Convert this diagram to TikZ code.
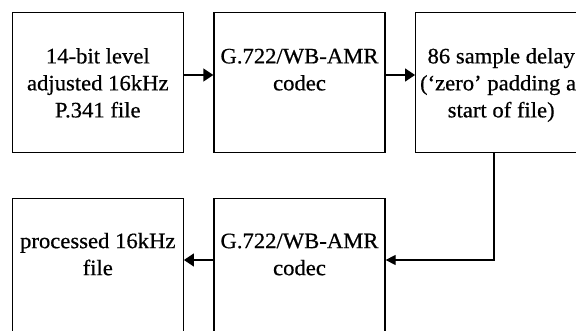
\documentclass[tikz,border=0pt]{standalone}
\usepackage{fontspec}
\setmainfont[FakeStretch=1.03,FakeBold=0.6]{Liberation Serif}
\usetikzlibrary{arrows.meta,calc}
\tikzset{
  blk/.style={draw=black, line width=1.3pt, minimum width=171pt, minimum height=140pt, inner sep=0pt},
  txt/.style={anchor=base, inner sep=0pt, font=\fontsize{22}{27}\selectfont},
  arr/.style={line width=1.3pt, -{Triangle[length=10pt,width=13pt]}},
  arrs/.style={line width=1.3pt, -{Triangle[length=10pt,width=10pt]}}
}
\newcommand{\boxtext}[1]{\parbox[t]{220pt}{\centering\fontsize{22}{27}\selectfont #1}}
\begin{document}
\begin{tikzpicture}[x=1pt,y=1pt]
\useasboundingbox (0,0) rectangle (576,331);
\clip (0,0) rectangle (576,331);
\fill[white] (0,0) rectangle (576,331);
% top row
\node[blk] (b1) at (97.8,248.3) {};
\node[blk] (b2) at (299.5,248.3) {};
\node[blk] (b3) at (501.2,248.3) {};
% bottom row
\node[blk] (b4) at (97.8,62.7) {};
\node[blk] (b5) at (299.5,62.7) {};
% texts
\node[txt] (t1) at ($(b1.north)+(0,-51.3)$) {\boxtext{14-bit level\\adjusted 16kHz\\P.341 file}};
\node[txt] (t2) at ($(b2.north)+(0,-51.3)$) {\boxtext{G.722/WB-AMR\\codec}};
\node[txt] (t3) at ($(b3.north)+(0,-51.3)$) {\boxtext{86 sample delay\\(‘zero’ padding at\\start of file)}};
\node[txt] (t4) at ($(b4.north)+(0,-50.5)$) {\boxtext{processed 16kHz\\file}};
\node[txt] (t5) at ($(b5.north)+(0,-50.5)$) {\boxtext{G.722/WB-AMR\\codec}};
% connectors
\coordinate (ya) at (0,256);
\coordinate (yb) at (494,71);
\draw[arr] (b1.east |- ya) -- (b2.west |- ya);
\draw[arr] (b2.east |- ya) -- (b3.west |- ya);
\draw[arrs] (b3.south -| yb) |- (b5.east |- yb);
\draw[arr] (b5.west |- yb) -- (b4.east |- yb);
\end{tikzpicture}
\end{document}
